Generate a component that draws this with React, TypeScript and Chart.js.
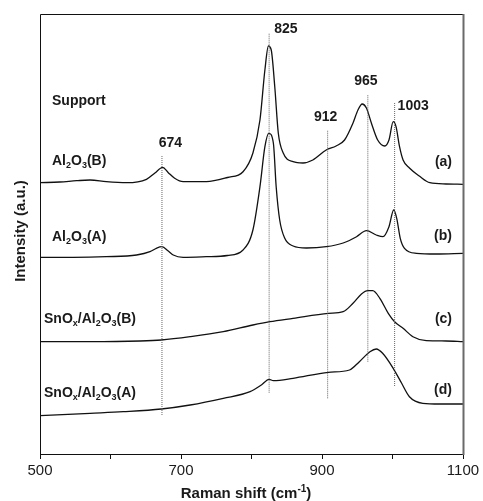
import React, { useEffect, useRef } from "react";
import { Chart, registerables } from "chart.js";

Chart.register(...registerables);

// ---- Data (intensity in arbitrary units) ----
const shiftA = [500, 528, 552, 571, 594, 623, 651, 663, 674, 682, 691, 703, 736, 766, 788, 802, 812, 819, 824, 828, 833, 838, 845, 859, 873, 887, 906, 920, 932, 944, 951, 957, 963, 970, 979, 989, 995, 1001, 1005, 1010, 1015, 1024, 1038, 1053, 1076, 1100];
const intensityA = [271.3, 272, 273.3, 274, 272.3, 271.3, 274.7, 281, 286.7, 281.3, 275.7, 272.3, 272.3, 276.5, 282.3, 301, 334, 384, 408, 404, 367.3, 321, 301, 292.3, 291, 294, 304, 308, 314, 331, 344, 350, 346, 331, 314, 308, 314, 332.3, 327.3, 307.3, 294, 286, 278, 271.3, 270, 269.7];

const shiftB = [500, 547, 594, 637, 656, 665, 673, 682, 689, 703, 736, 766, 788, 802, 812, 819, 824.5, 831, 835, 840, 847, 859, 878, 906, 930, 949, 963, 977, 986.5, 995, 1001.7, 1006, 1011, 1017, 1034, 1062, 1100];
const intensityB = [196.7, 196.7, 197.3, 199, 202.3, 205.7, 207.3, 203, 199, 196.7, 197.3, 198.5, 204, 224, 267.3, 307.3, 320.7, 311, 267.3, 234, 216, 208, 206, 207.3, 211, 217.3, 223.3, 219, 217.3, 227.3, 244, 235.7, 215.7, 205.7, 200.7, 200, 200.7];

const shiftC = [500, 571, 642, 672, 713, 760, 802, 826, 859, 909, 930, 944, 956, 965, 972, 982, 994, 1003, 1015, 1029, 1048, 1076, 1100];
const intensityC = [112.3, 112.3, 113, 114, 117.3, 122.3, 129, 132.3, 135.7, 140.7, 142.3, 150.7, 160, 163.3, 163.3, 155.7, 140.7, 132.3, 125.7, 117.3, 113.3, 113, 112.3];

const shiftD = [500, 571, 618, 672, 713, 760, 798, 814, 825, 831, 859, 909, 939, 953, 968, 977, 986, 1001, 1013, 1024, 1043, 1067, 1100];
const intensityD = [38.3, 40.7, 42.3, 45, 49, 55.7, 62.3, 69, 74.7, 73.3, 75.7, 81.7, 84, 92.3, 102.3, 105, 100.7, 85.7, 70.7, 57.3, 50.7, 50, 50];

// Band markers (dotted vertical lines)
const markerLabels = ["674", "825", "912", "965", "1003"];
const markerShift = [673, 825, 908, 965, 1003];
const markerTop = [299, 421, 324, 359, 351];
const markerBottom = [39, 61.3, 55.7, 92.3, 68];

// Axis
const xMin = 500;
const xMax = 1100;
const xStep = 100;
const xLabelled = [500, 700, 900, 1100];
const yMin = 0;
const yMax = 440;

const FONT = '"Liberation Sans", Arial, Helvetica, sans-serif';

type Seg = { t: string; s?: "sub" | "sup" };

function drawRich(ctx: CanvasRenderingContext2D, segs: Seg[], x: number, y: number, align: "left" | "right" | "center", size: number) {
  const main = `bold ${size}px ${FONT}`;
  const small = `bold ${Math.round(size * 0.64)}px ${FONT}`;
  let w = 0;
  for (const s of segs) {
    ctx.font = s.s ? small : main;
    w += ctx.measureText(s.t).width;
  }
  let cx = align === "left" ? x : align === "right" ? x - w : x - w / 2;
  ctx.textAlign = "left";
  ctx.textBaseline = "alphabetic";
  for (const s of segs) {
    ctx.font = s.s ? small : main;
    const dy = s.s === "sub" ? size * 0.22 : s.s === "sup" ? -size * 0.42 : 0;
    ctx.fillText(s.t, cx, y + dy);
    cx += ctx.measureText(s.t).width;
  }
}

const AL2O3 = (tag: string): Seg[] => [
  { t: "Al" }, { t: "2", s: "sub" }, { t: "O" }, { t: "3", s: "sub" }, { t: `(${tag})` },
];
const SNOX = (tag: string): Seg[] => [
  { t: "SnO" }, { t: "x", s: "sub" }, { t: "/" }, ...AL2O3(tag),
];

const annotPlugin = {
  id: "annot",
  afterDraw(chart: any) {
    const ctx: CanvasRenderingContext2D = chart.ctx;
    const { left, right, top, bottom } = chart.chartArea;
    const xs = chart.scales.x;
    ctx.save();
    // frame
    ctx.strokeStyle = "#111";
    ctx.lineWidth = 1;
    ctx.beginPath();
    ctx.moveTo(right, top + 0.5);
    ctx.lineTo(left + 0.5, top + 0.5);
    ctx.lineTo(left + 0.5, bottom + 0.5);
    ctx.lineTo(right, bottom + 0.5);
    ctx.stroke();
    ctx.strokeStyle = "#6a6a6a";
    ctx.lineWidth = 2;
    ctx.beginPath();
    ctx.moveTo(right + 0.5, top);
    ctx.lineTo(right + 0.5, bottom + 1);
    ctx.stroke();

    ctx.fillStyle = "#1a1a1a";
    // marker labels
    const mOff: [number, number, "left" | "center"][] = [
      [8.5, -8, "center"],
      [5, 0, "left"],
      [-2, -9, "center"],
      [-2, -10, "center"],
      [3, 7, "left"],
    ];
    markerLabels.forEach((lab, i) => {
      const px = xs.getPixelForValue(markerShift[i]);
      const py = chart.scales.y.getPixelForValue(markerTop[i]);
      drawRich(ctx, [{ t: lab }], px + mOff[i][0], py + mOff[i][1], mOff[i][2], 14);
    });

    // sample labels
    drawRich(ctx, [{ t: "Support" }], left + 12, top + 91, "left", 14);
    drawRich(ctx, AL2O3("B"), left + 12, top + 151, "left", 14);
    drawRich(ctx, AL2O3("A"), left + 12, top + 227, "left", 14);
    drawRich(ctx, SNOX("B"), left + 4, top + 309, "left", 14);
    drawRich(ctx, SNOX("A"), left + 4, top + 383, "left", 14);
    drawRich(ctx, [{ t: "(a)" }], right - 11, top + 152, "right", 14);
    drawRich(ctx, [{ t: "(b)" }], right - 11, top + 226, "right", 14);
    drawRich(ctx, [{ t: "(c)" }], right - 11, top + 309, "right", 14);
    drawRich(ctx, [{ t: "(d)" }], right - 11, top + 380, "right", 14);

    // axis titles
    drawRich(ctx, [{ t: "Raman shift (cm" }, { t: "-1", s: "sup" }, { t: ")" }], left + 206, bottom + 44, "center", 15);
    ctx.translate(24.5, (top + bottom) / 2 - 3);
    ctx.rotate(-Math.PI / 2);
    drawRich(ctx, [{ t: "Intensity (a.u.)" }], 0, 0, "center", 15);
    ctx.restore();
  },
};

export default function App() {
  const ref = useRef<HTMLCanvasElement | null>(null);
  useEffect(() => {
    if (!ref.current) return;
    const pts = (xs: number[], ys: number[]) => xs.map((x, i) => ({ x, y: ys[i] }));
    const spectra = [
      pts(shiftA, intensityA),
      pts(shiftB, intensityB),
      pts(shiftC, intensityC),
      pts(shiftD, intensityD),
    ].map((data) => ({
      data,
      borderColor: "#111",
      borderWidth: 1.3,
      pointRadius: 0,
      cubicInterpolationMode: "monotone" as const,
      fill: false,
    }));
    const markers = markerShift.map((s, i) => ({
      data: [
        { x: s, y: markerBottom[i] },
        { x: s, y: markerTop[i] },
      ],
      borderColor: "#666",
      borderWidth: 1,
      borderDash: [1, 1],
      pointRadius: 0,
      tension: 0,
      fill: false,
    }));
    const chart = new Chart(ref.current, {
      type: "line",
      data: { datasets: [...markers, ...spectra] as any },
      options: {
        animation: false,
        responsive: false,
        devicePixelRatio: 1,
        layout: { padding: { left: 40, right: 20, top: 14, bottom: 0 } },
        plugins: { legend: { display: false }, tooltip: { enabled: false } },
        scales: {
          x: {
            type: "linear",
            min: xMin,
            max: xMax,
            afterFit: (s: any) => {
              s.height = 47;
            },
            ticks: {
              stepSize: xStep,
              autoSkip: false,
              maxRotation: 0,
              padding: 3,
              color: "#1a1a1a",
              font: { size: 15, family: FONT },
              callback: (v: any) => (xLabelled.includes(Number(v)) ? String(v) : ""),
            },
            grid: { drawOnChartArea: false, drawTicks: true, tickLength: 5, color: "#111" },
            border: { display: false },
          },
          y: {
            type: "linear",
            display: false,
            min: yMin,
            max: yMax,
          },
        },
      },
      plugins: [annotPlugin],
    });
    return () => chart.destroy();
  }, []);
  return (
    <div style={{ position: "fixed", left: 0, top: 0, width: 483, height: 501, background: "#fff" }}>
      <canvas ref={ref} width={483} height={501} />
    </div>
  );
}
